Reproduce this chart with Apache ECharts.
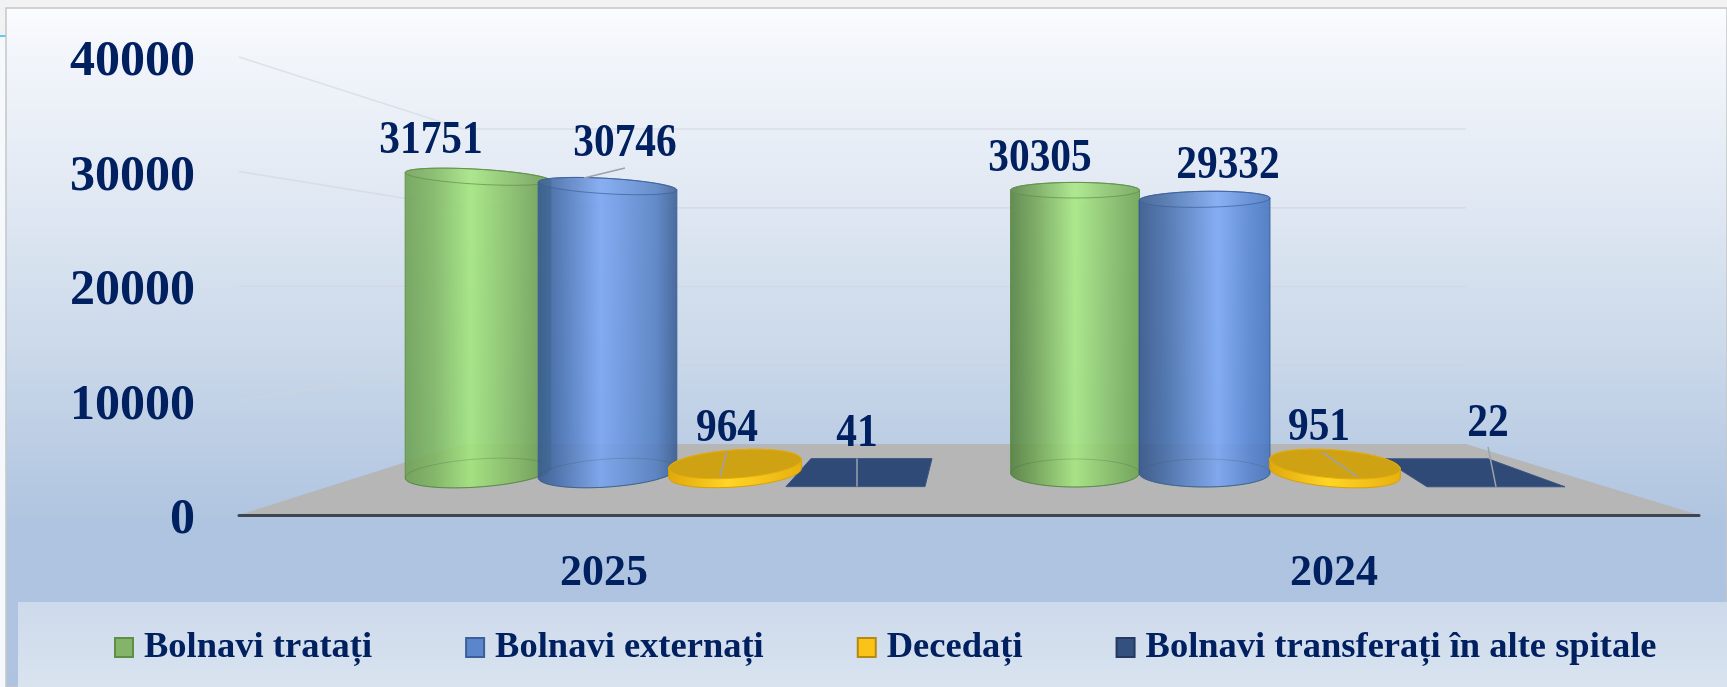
<!DOCTYPE html>
<html><head><meta charset="utf-8">
<style>html,body{margin:0;padding:0;background:#f2f2f2}#c{width:1727px;height:687px}</style>
<script src="https://cdn.jsdelivr.net/npm/echarts@6/dist/echarts.min.js"></script>
</head><body><div id="c"></div>
<script>
const categories = ['2025', '2024'];
const yTicks = [0, 10000, 20000, 30000, 40000];
const tratati = [31751, 30305];
const externati = [30746, 29332];
const decedati = [964, 951];
const transferati = [41, 22];

const seriesNames = ['Bolnavi tratați', 'Bolnavi externați', 'Decedați', 'Bolnavi transferați în alte spitale'];

// Perspective layout: depth of the bars and of the back wall, relative to the front axis
const FRONT_Y = 515, BAR_FLOOR_Y = 473, BACK_FLOOR_Y = 444;
const BAR_SCALE = 0.815, BACK_SCALE = 0.6878;
const FLOOR_BACK_L = 463, FLOOR_BACK_R = 1466, WALL_L = 239;
const FONT = '"Liberation Serif","Times New Roman",serif', INK = '#002060';

const cylLayout = {
  tratati: [
    {dx: -126, w: 146, topTilt: 3.3, baseTilt: -4, lx: -47, ly: -36,
     stops: [[0,'#6c9f52'],[.2,'#7db660'],[.45,'#a2e67b'],[.8,'#7cb25e'],[1,'#629448']], line:'#5f8f45'},
    {dx: -259, w: 129, topTilt: 0, baseTilt: 0, lx: -35, ly: -31,
     stops: [[0,'#52803e'],[.2,'#72a655'],[.5,'#a6e880'],[.8,'#82bc64'],[1,'#6aa34e']], line:'#5f8f45'}
  ],
  externati: [
    {dx: 3.5, w: 139, topTilt: 3.3, baseTilt: -4, lx: 17.5, ly: -42, leader: [17.5,-18,-23.5,-8],
     stops: [[0,'#345790'],[.12,'#4069a8'],[.45,'#78a4f2'],[.85,'#527ec2'],[1,'#365990']], line:'#3a5f9a'},
    {dx: -129.5, w: 131, topTilt: -1, baseTilt: 0, lx: 23.5, ly: -33,
     stops: [[0,'#315288'],[.2,'#436ba7'],[.6,'#7aa6f4'],[.85,'#5483d0'],[1,'#4473be']], line:'#3a5f9a'}
  ],
  decedati: [
    {dx: 131, w: 133, topTilt: -4, lx: -8, ly: -35, leader: [-8,-13,-15,13]},
    {dx: 1, w: 131, topTilt: 4.5, lx: -16, ly: -36, leader: [-13,-12,23,13]}
  ]
};
const planeLayout = [
  {dx: 256, topL: -49, topR: 72, botL: -74, botR: 65, lx: -3, ly: -39, leader: [-3,-14,-3,14]},
  {dx: 162, topL: -113, topR: -8, botL: -69, botR: 69, lx: -8, ly: -49, leader: [-8,-26,0,14]}
];
const colors = ['#84b46a', '#5b86cc', '#fbc218', '#34507f'];
const borders = ['#5f8f45', '#3a5f9a', '#b58a10', '#24395f'];

const barY = (frontY) => BAR_FLOOR_Y - (FRONT_Y - frontY) * BAR_SCALE;
const backY = (frontY) => BACK_FLOOR_Y - (FRONT_Y - frontY) * BACK_SCALE;

function ell(cx, cy, a, b, deg, t) {
  const th = deg * Math.PI / 180;
  return [cx + a * Math.cos(t) * Math.cos(th) - b * Math.sin(t) * Math.sin(th),
          cy + a * Math.cos(t) * Math.sin(th) + b * Math.sin(t) * Math.cos(th)];
}
function arc(cx, cy, a, b, deg, t0, t1) {
  const pts = [], n = 48;
  for (let i = 0; i <= n; i++) pts.push(ell(cx, cy, a, b, deg, t0 + (t1 - t0) * i / n));
  return pts;
}
function txt(x, y, s) {
  return {type: 'text', x, y, style: {text: String(s), x: 0, y: 0, align: 'center', verticalAlign: 'middle',
    font: 'bold 46px ' + FONT, fill: INK}, scaleX: 0.9, scaleY: 1};
}
function leader(cx, cy, l) {
  return {type: 'line', shape: {x1: cx + l[0], y1: cy + l[1], x2: cx + l[2], y2: cy + l[3]},
    style: {stroke: '#9aa2ac', lineWidth: 1.5}};
}

function cylinderRender(key) {
  return (params, api) => {
    const i = api.value(0), v = api.value(1), L = cylLayout[key][i];
    const [xc, fy] = api.coord([i, v]);
    const cx = xc + L.dx, base = BAR_FLOOR_Y, top = barY(fy), h = base - top, a = L.w / 2;
    const bBase = 14, bTop = 14 - 6.5 * h / 296;
    const body = [...arc(cx, base, a, bBase, L.baseTilt, Math.PI, 0),
                  ...arc(cx, top, a, bTop, L.topTilt, 0, -Math.PI)];
    const grad = new echarts.graphic.LinearGradient(0, 0, 1, 0, L.stops.map(s => ({offset: s[0], color: s[1]})));
    return {type: 'group', children: [
      {type: 'polygon', shape: {points: body}, style: {fill: grad, stroke: L.line, lineWidth: 1, opacity: 0.88}},
      {type: 'polygon', shape: {points: arc(cx, base, a, bBase, L.baseTilt, 0, 2 * Math.PI)},
       style: {fill: 'none', stroke: 'rgba(60,90,70,0.25)', lineWidth: 1}},
      {type: 'polygon', shape: {points: arc(cx, top, a, bTop, L.topTilt, 0, 2 * Math.PI)},
       style: {fill: 'rgba(255,255,255,0.05)', stroke: L.line, lineWidth: 1, opacity: 0.7}},
      ...(L.leader ? [leader(cx, top, L.leader)] : []),
      txt(cx + L.lx, top + L.ly, v)
    ]};
  };
}
function coinRender(params, api) {
  const i = api.value(0), v = api.value(1), L = cylLayout.decedati[i];
  const [xc, fy] = api.coord([i, v]);
  const cx = xc + L.dx, base = BAR_FLOOR_Y, top = barY(fy), a = L.w / 2, b = 14;
  const body = [...arc(cx, base, a, b, L.topTilt, Math.PI, 0), ...arc(cx, top, a, b, L.topTilt, 0, -Math.PI)];
  const side = new echarts.graphic.LinearGradient(0, 0, 1, 0, [
    {offset: 0, color: '#e0a80c'}, {offset: .45, color: '#ffd526'}, {offset: 1, color: '#e8b010'}]);
  return {type: 'group', children: [
    {type: 'polygon', shape: {points: body}, style: {fill: side, stroke: '#d89f08', lineWidth: 1}},
    {type: 'polygon', shape: {points: arc(cx, top, a, b, L.topTilt, 0, 2 * Math.PI)},
     style: {fill: '#cfa214', stroke: '#e4ad0c', lineWidth: 1}},
    leader(cx, top, L.leader),
    txt(cx + L.lx, top + L.ly, v)
  ]};
}
function planeRender(params, api) {
  const i = api.value(0), v = api.value(1), L = planeLayout[i];
  const [xc, fy] = api.coord([i, v]);
  const cx = xc + L.dx, cy = barY(fy);
  return {type: 'group', children: [
    {type: 'polygon', shape: {points: [[cx + L.topL, cy - 14], [cx + L.topR, cy - 14], [cx + L.botR, cy + 14], [cx + L.botL, cy + 14]]},
     style: {fill: '#2f4a76', stroke: '#3a5684', lineWidth: 1}},
    leader(cx, cy, L.leader),
    txt(cx + L.lx, cy + L.ly, v)
  ]};
}
function wallRender(params, api) {
  const v = api.value(1), fy = api.coord([0, v])[1], by = backY(fy), children = [];
  if (v === 0) {
    const rightX = api.coord([1, 0])[0] + 365;
    children.push({type: 'polygon', shape: {points: [[WALL_L, FRONT_Y], [FLOOR_BACK_L, BACK_FLOOR_Y], [FLOOR_BACK_R, BACK_FLOOR_Y], [rightX, FRONT_Y]]},
      style: {fill: '#b6b6b6'}});
  } else {
    children.push({type: 'polyline', shape: {points: [[WALL_L, fy], [FLOOR_BACK_L, by], [FLOOR_BACK_R, by]]},
      style: {fill: 'none', stroke: 'rgba(208,212,220,0.6)', lineWidth: 1.5}});
  }
  return {type: 'group', children};
}

const pairs = arr => arr.map((v, i) => [i, v]);
const common = {type: 'custom', clip: false, silent: true, encode: {x: 0, y: 1}};

const chart = echarts.init(document.getElementById('c'), null, {renderer: 'canvas'});
chart.setOption({
  animation: false,
  backgroundColor: 'transparent',
  graphic: [
    {type: 'rect', z: -10, shape: {x: 0, y: 0, width: 1727, height: 687}, style: {fill: '#f2f2f2'}},
    {type: 'rect', z: -10, shape: {x: 0, y: 36, width: 6, height: 651}, style: {fill: '#f6f9fc'}},
    {type: 'rect', z: -10, shape: {x: 0, y: 35, width: 7, height: 2}, style: {fill: '#5fcbee'}},
    {type: 'rect', z: -9, shape: {x: 6, y: 8, width: 1721, height: 679},
     style: {fill: new echarts.graphic.LinearGradient(0, 0, 0, 1, [
       {offset: 0, color: '#fbfcfe'}, {offset: .06, color: '#f3f6fb'}, {offset: .25, color: '#e3eaf4'},
       {offset: .5, color: '#cbd9ea'}, {offset: .76, color: '#afc4e0'}, {offset: 1, color: '#aec3e0'}]),
       stroke: '#c4c6c8', lineWidth: 1.5}},
    {type: 'rect', z: -8, shape: {x: 18, y: 602, width: 1709, height: 85},
     style: {fill: new echarts.graphic.LinearGradient(0, 0, 0, 1, [
       {offset: 0, color: '#cddaeb'}, {offset: 1, color: '#d9e3f0'}])}}
  ],
  grid: {left: WALL_L, right: 28, top: 57, height: FRONT_Y - 57},
  xAxis: {type: 'category', data: categories, z: 6,
    axisLine: {show: true, lineStyle: {color: '#3d4652', width: 3}}, axisTick: {show: false},
    axisLabel: {fontFamily: FONT, fontWeight: 'bold', fontSize: 44, color: INK, margin: 37}},
  yAxis: {type: 'value', min: 0, max: 40000, interval: 10000,
    axisLine: {show: false}, axisTick: {show: false}, splitLine: {show: false},
    axisLabel: {fontFamily: FONT, fontWeight: 'bold', fontSize: 50, color: INK, margin: 44,
      verticalAlign: 'top', lineHeight: 11, formatter: v => String(v)}},
  legend: {left: 109, top: 624, itemWidth: 18, itemHeight: 19, itemGap: 93, selectedMode: false,
    textStyle: {fontFamily: FONT, fontWeight: 'bold', fontSize: 36.5, color: INK, padding: [0, 0, 0, 6]},
    data: seriesNames.map((name, i) => ({name, icon: 'rect',
      itemStyle: {color: colors[i], borderColor: borders[i], borderWidth: 2}}))},
  series: [
    {...common, name: '__wall', z: 1, data: yTicks.map(v => [0, v]), renderItem: wallRender},
    {...common, name: seriesNames[3], z: 2, itemStyle: {color: colors[3]}, data: pairs(transferati), renderItem: planeRender},
    {...common, name: seriesNames[0], z: 3, itemStyle: {color: colors[0]}, data: pairs(tratati), renderItem: cylinderRender('tratati')},
    {...common, name: seriesNames[1], z: 4, itemStyle: {color: colors[1]}, data: pairs(externati), renderItem: cylinderRender('externati')},
    {...common, name: seriesNames[2], z: 5, itemStyle: {color: colors[2]}, data: pairs(decedati), renderItem: coinRender}
  ]
});
</script></body></html>
